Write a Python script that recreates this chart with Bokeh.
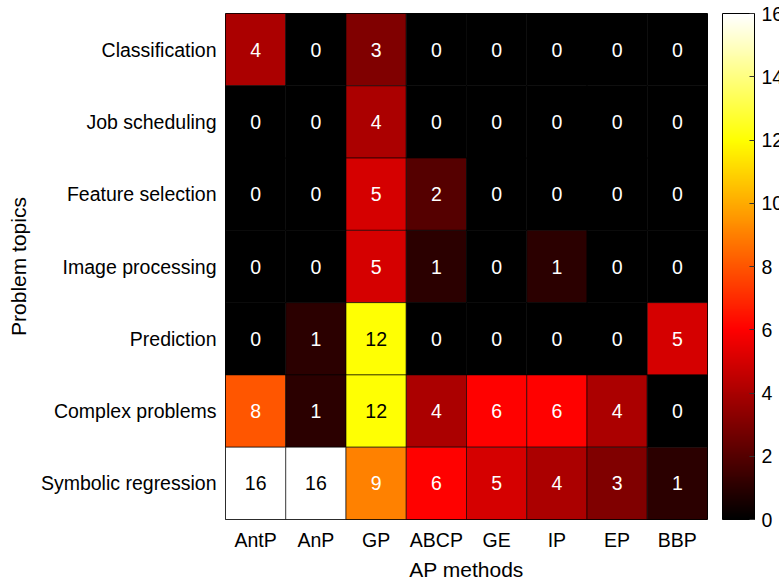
from bokeh.plotting import figure
from bokeh.models import ColumnDataSource, LinearColorMapper, ColorBar, FactorRange, FixedTicker
from bokeh.transform import transform
from bokeh.embed import file_html
from bokeh.resources import INLINE
from bokeh.core.properties import value

methods = ["AntP", "AnP", "GP", "ABCP", "GE", "IP", "EP", "BBP"]
topics = ["Classification", "Job scheduling", "Feature selection", "Image processing",
          "Prediction", "Complex problems", "Symbolic regression"]
counts = [
    [4, 0, 3, 0, 0, 0, 0, 0],
    [0, 0, 4, 0, 0, 0, 0, 0],
    [0, 0, 5, 2, 0, 0, 0, 0],
    [0, 0, 5, 1, 0, 1, 0, 0],
    [0, 1, 12, 0, 0, 0, 0, 5],
    [8, 1, 12, 4, 6, 6, 4, 0],
    [16, 16, 9, 6, 5, 4, 3, 1],
]
cbar_ticks = [0, 2, 4, 6, 8, 10, 12, 14, 16]

def hot(n=256):
    pal = []
    for i in range(n):
        t = i / (n - 1)
        r = min(1.0, t / 0.375)
        g = min(1.0, max(0.0, (t - 0.375) / 0.375))
        b = min(1.0, max(0.0, (t - 0.75) / 0.25))
        pal.append("#%02x%02x%02x" % (round(r * 255), round(g * 255), round(b * 255)))
    return pal

xs, ys, vs, labels, tcol = [], [], [], [], []
for ti, t in enumerate(topics):
    for mi, m in enumerate(methods):
        v = counts[ti][mi]
        xs.append(m); ys.append(t); vs.append(v); labels.append(str(v))
        tcol.append("black" if v >= 10 else "white")
src = ColumnDataSource(dict(x=xs, y=ys, v=vs, label=labels, tc=tcol))

FONT = "Liberation Sans"
FS = "19.5px"
mapper = LinearColorMapper(palette=hot(), low=0, high=16)

W, H = 779, 583
BL, BR, BT, BB = 225, 72, 13, 64
FW = W - BL - BR
FH = H - BT - BB

p = figure(x_range=FactorRange(factors=methods), y_range=FactorRange(factors=list(reversed(topics))),
           width=W, height=H, output_backend="svg", toolbar_location=None,
           min_border_left=BL, min_border_right=BR, min_border_top=BT, min_border_bottom=BB)
p.rect(x="x", y="y", width=1, height=1, source=src,
       fill_color=transform("v", mapper), line_color="black", line_alpha=0.6, line_width=1)
p.text(x="x", y="y", text="label", source=src, text_color="tc",
       text_align="center", text_baseline="middle",
       text_font=value(FONT), text_font_size=FS)

p.outline_line_color = "black"
p.grid.visible = False
for ax in (p.xaxis, p.yaxis):
    ax.axis_line_color = None
    ax.major_tick_line_color = None
    ax.minor_tick_line_color = None
    ax.major_tick_out = 0
    ax.major_tick_in = 0
    ax.major_label_text_font = FONT
    ax.major_label_text_font_size = FS
    ax.major_label_text_color = "black"
    ax.axis_label_text_font = FONT
    ax.axis_label_text_font_size = "21px"
    ax.axis_label_text_font_style = "normal"
    ax.axis_label_text_color = "black"
p.xaxis.axis_label = "AP methods"
p.yaxis.axis_label = "Problem topics"
p.xaxis.major_label_standoff = 9
p.yaxis.major_label_standoff = 9
p.xaxis.axis_label_standoff = 4
p.yaxis.axis_label_standoff = 8

cb = ColorBar(color_mapper=mapper, ticker=FixedTicker(ticks=cbar_ticks),
              location=(FW + 15, 0), width=32, height=FH, margin=0, padding=0,
              major_tick_in=5, major_tick_out=0, major_tick_line_color="#333333",
              minor_tick_line_color=None, label_standoff=7,
              bar_line_color="black", border_line_color=None, background_fill_alpha=0,
              major_label_text_font=FONT, major_label_text_font_size=FS,
              major_label_text_color="black")
p.add_layout(cb, "center")

open("out.html", "w").write(file_html(p, INLINE))
